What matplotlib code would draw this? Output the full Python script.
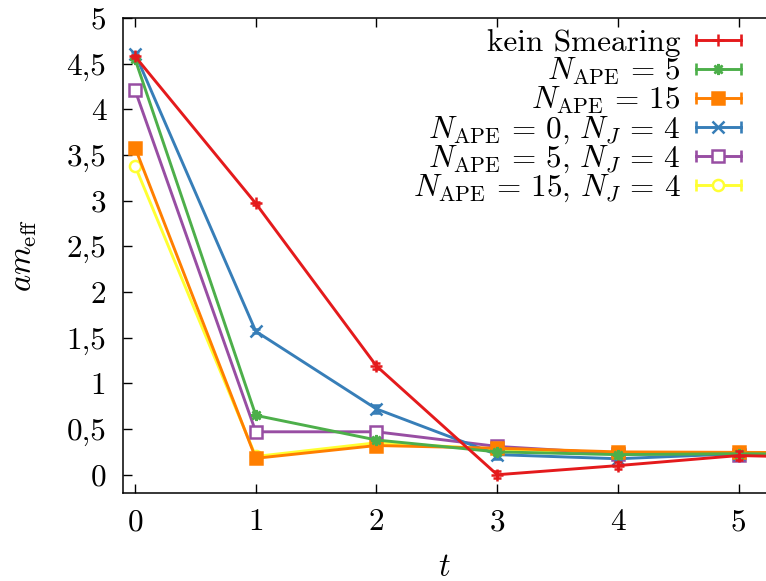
import numpy as np
import matplotlib
matplotlib.use('Agg')
import matplotlib.pyplot as plt
from matplotlib.lines import Line2D
from matplotlib.legend_handler import HandlerLine2D, HandlerTuple

plt.rcParams['font.family'] = 'serif'
plt.rcParams['font.serif'] = ['cmr10']
plt.rcParams['mathtext.fontset'] = 'cm'
plt.rcParams['axes.formatter.use_mathtext'] = True

t = [0, 1, 2, 3, 4, 5, 6]

labels = [
    'kein Smearing',
    r'$N_{\mathrm{APE}}\,=\,5$',
    r'$N_{\mathrm{APE}}\,=\,15$',
    r'$N_{\mathrm{APE}}\,=\,0,\,N_J\,=\,4$',
    r'$N_{\mathrm{APE}}\,=\,5,\,N_J\,=\,4$',
    r'$N_{\mathrm{APE}}\,=\,15,\,N_J\,=\,4$',
]

m_kein = [4.58, 2.97, 1.19, 0.00, 0.10, 0.21, 0.18]
e_kein = [0.02, 0.02, 0.03, 0.04, 0.04, 0.05, 0.05]
m_ape5 = [4.55, 0.65, 0.38, 0.25, 0.22, 0.23, 0.22]
e_ape5 = [0.01, 0.01, 0.01, 0.02, 0.02, 0.02, 0.02]
m_ape15 = [3.58, 0.18, 0.32, 0.29, 0.25, 0.245, 0.24]
e_ape15 = [0.01, 0.01, 0.01, 0.02, 0.02, 0.02, 0.02]
m_ape0_nj4 = [4.61, 1.57, 0.72, 0.22, 0.175, 0.23, 0.22]
e_ape0_nj4 = [0.02, 0.02, 0.04, 0.05, 0.03, 0.05, 0.05]
m_ape5_nj4 = [4.21, 0.47, 0.47, 0.31, 0.23, 0.22, 0.22]
e_ape5_nj4 = [0.01, 0.01, 0.02, 0.02, 0.02, 0.02, 0.02]
m_ape15_nj4 = [3.38, 0.20, 0.35, 0.28, 0.24, 0.24, 0.23]
e_ape15_nj4 = [0.01, 0.01, 0.01, 0.02, 0.02, 0.02, 0.02]

series = [m_kein, m_ape5, m_ape15, m_ape0_nj4, m_ape5_nj4, m_ape15_nj4]
errors = [e_kein, e_ape5, e_ape15, e_ape0_nj4, e_ape5_nj4, e_ape15_nj4]

colors = ['#e41a1c', '#4daf4a', '#ff7f00', '#377eb8', '#984ea3', '#ffff33']
markers = ['+', (8, 2, 0), 's', 'x', 's', 'o']
filled = [True, True, True, True, False, False]

xticks = [0, 1, 2, 3, 4, 5]
xticklabels = ['0', '1', '2', '3', '4', '5']
yticks = [0, 0.5, 1, 1.5, 2, 2.5, 3, 3.5, 4, 4.5, 5]
yticklabels = ['0', '0,5', '1', '1,5', '2', '2,5', '3', '3,5', '4', '4,5', '5']

fs = 22.5


class BaselineLine(HandlerLine2D):
    # keep the key sample at a fixed height above the text baseline,
    # whatever the (tall) handle box is
    def create_artists(self, legend, orig_handle, xdescent, ydescent,
                       width, height, fontsize, trans):
        arts = super().create_artists(legend, orig_handle, xdescent, ydescent,
                                      width, height, fontsize, trans)
        for a in arts:
            a.set_ydata(np.full(len(a.get_xdata()), 0.35 * fontsize))
        return arts


fig = plt.figure(figsize=(7.66, 5.81), dpi=100)
ax = fig.add_axes([123 / 766, 88 / 581, (766 - 123) / 766, (493 - 18) / 581])

lw = 2.1
ms = 8
handles = []
hmap = {}
order = list(range(len(series)))
# draw in reverse so the first series ends up on top
for i in order[::-1]:
    fc = colors[i] if filled[i] else 'white'
    ax.errorbar(t, series[i], yerr=errors[i], color=colors[i], lw=lw,
                marker=markers[i], ms=ms, mfc=fc, mec=colors[i], mew=1.8,
                capsize=3.2, capthick=1.8, elinewidth=1.8,
                zorder=3 + len(series) - i)

for i in order:
    fc = colors[i] if filled[i] else 'white'
    cap = Line2D([], [], color=colors[i], lw=lw, marker='|', ms=9, mew=1.9)
    mid = Line2D([], [], ls='none', marker=markers[i], ms=ms, mfc=fc,
                 mec=colors[i], mew=1.8)
    hmap[cap] = BaselineLine(numpoints=2, marker_pad=0)
    hmap[mid] = BaselineLine(numpoints=1)
    handles.append((cap, mid))
hmap[tuple] = HandlerTuple(ndivide=1, pad=0)

# tall handle boxes give every legend row the same height
leg = ax.legend(handles, labels, handler_map=hmap, markerfirst=False,
                loc='upper right', bbox_to_anchor=(741 / 766, (581 - 17) / 581),
                bbox_transform=fig.transFigure, frameon=False, fontsize=fs,
                handlelength=1.45, handleheight=2.0, handletextpad=0.48,
                labelspacing=-0.618, borderpad=0, borderaxespad=0)

ax.set_xlim(-0.1, 5.227)
ax.set_ylim(-0.2, 5)
ax.set_xticks(xticks)
ax.set_xticklabels(xticklabels)
ax.set_yticks(yticks)
ax.set_yticklabels(yticklabels)
ax.tick_params(direction='in', length=6.5, width=1, labelsize=fs,
               top=True, right=False)
ax.tick_params(axis='x', pad=11)
ax.tick_params(axis='y', pad=12)
ax.spines['right'].set_visible(False)
for s in ['left', 'bottom', 'top']:
    ax.spines[s].set_linewidth(1.1)

ax.set_xlabel(r'$t$', fontsize=fs + 1, labelpad=12)
ax.set_ylabel(r'$am_{\mathrm{eff}}$', fontsize=fs + 1, labelpad=20)

fig.savefig('out.png', dpi=100)
